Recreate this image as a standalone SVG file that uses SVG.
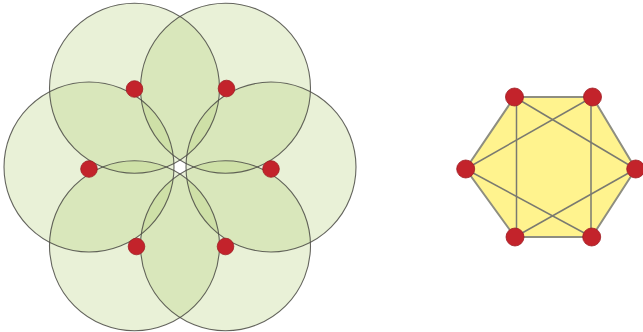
<svg xmlns="http://www.w3.org/2000/svg" width="643" height="332" viewBox="0 0 643 332">
<defs>
<style>
.disk{fill:#b5d07a;fill-opacity:0.3;stroke:none}
.ring{fill:none;stroke:#4a4a44;stroke-width:1.1;stroke-opacity:0.85}
.dot{fill:#c3232b;stroke:#9e1c22;stroke-width:0.8}
.hex{fill:#fff38e;stroke:#8e8e80;stroke-width:2}
.edge{stroke:#7a7a70;stroke-width:1.5;fill:none}
</style>
</defs>
<rect width="643" height="332" fill="#ffffff"/>
<g id="disks">
<circle class="disk" cx="134.5" cy="88.2" r="85"/>
<circle class="disk" cx="225.5" cy="88.2" r="85"/>
<circle class="disk" cx="271" cy="167" r="85"/>
<circle class="disk" cx="225.5" cy="245.8" r="85"/>
<circle class="disk" cx="134.5" cy="245.8" r="85"/>
<circle class="disk" cx="89" cy="167" r="85"/>
</g>
<g id="rings">
<circle class="ring" cx="134.5" cy="88.2" r="85"/>
<circle class="ring" cx="225.5" cy="88.2" r="85"/>
<circle class="ring" cx="271" cy="167" r="85"/>
<circle class="ring" cx="225.5" cy="245.8" r="85"/>
<circle class="ring" cx="134.5" cy="245.8" r="85"/>
<circle class="ring" cx="89" cy="167" r="85"/>
</g>
<g id="left-nodes">
<circle id="l1" class="dot" cx="134.5" cy="89" r="8.3"/>
<circle id="l2" class="dot" cx="226.5" cy="88.5" r="8.3"/>
<circle id="l3" class="dot" cx="271" cy="169" r="8.3"/>
<circle id="l4" class="dot" cx="225.5" cy="246.5" r="8.3"/>
<circle id="l5" class="dot" cx="136.5" cy="246.5" r="8.3"/>
<circle id="l6" class="dot" cx="89" cy="169" r="8.3"/>
</g>
<polygon id="hexagon" class="hex" points="514.5,97 592.5,97 635.7,169 591.7,237 515,237 465.7,169"/>
<g id="connectors">
<line class="edge" x1="516.5" y1="97" x2="516.5" y2="237"/>
<line class="edge" x1="591" y1="97" x2="591" y2="237"/>
<line class="edge" x1="514.5" y1="97" x2="635.7" y2="169"/>
<line class="edge" x1="592.5" y1="97" x2="465.7" y2="169"/>
<line class="edge" x1="465.7" y1="169" x2="591.7" y2="237"/>
<line class="edge" x1="635.7" y1="169" x2="515" y2="237"/>
</g>
<g id="right-nodes">
<circle id="r1" class="dot" cx="514.5" cy="97" r="9"/>
<circle id="r2" class="dot" cx="592.5" cy="97" r="9"/>
<circle id="r3" class="dot" cx="635.7" cy="169" r="9"/>
<circle id="r4" class="dot" cx="591.7" cy="237" r="9"/>
<circle id="r5" class="dot" cx="515" cy="237" r="9"/>
<circle id="r6" class="dot" cx="465.7" cy="169" r="9"/>
</g>
</svg>
